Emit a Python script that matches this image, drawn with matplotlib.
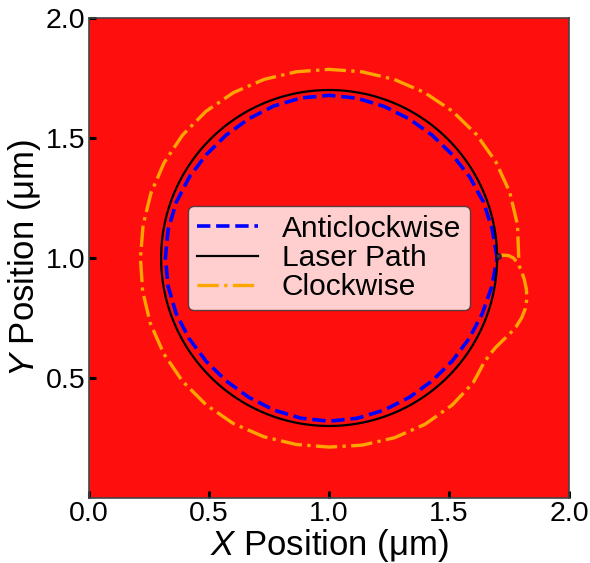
import numpy as np
import matplotlib
matplotlib.use("Agg")
import matplotlib.pyplot as plt

plt.rcParams['font.family'] = ['Liberation Sans', 'DejaVu Sans']
plt.rcParams['mathtext.fontset'] = 'custom'
plt.rcParams['mathtext.rm'] = 'Liberation Sans'
plt.rcParams['mathtext.it'] = 'Liberation Sans:italic'

# laser path: circle around the centre of the domain
laser_center = (1.0, 1.0)
laser_radius = 0.7

# anticlockwise front: radius read every 10 degrees, starting at the laser start point
blue_angles_deg = list(range(0, 361, 10))
blue_radii = [0.700, 0.690, 0.684, 0.676, 0.670, 0.668, 0.669, 0.672, 0.676, 0.678,
              0.677, 0.674, 0.670, 0.668, 0.669, 0.673, 0.678, 0.681, 0.682, 0.681,
              0.678, 0.673, 0.669, 0.668, 0.670, 0.674, 0.678, 0.680, 0.678, 0.674,
              0.670, 0.668, 0.669, 0.673, 0.679, 0.688, 0.700]

# clockwise front, part 1: the hook leaving the start point (x, y)
hook_x = [1.700, 1.725, 1.748, 1.768, 1.785, 1.800, 1.813, 1.822, 1.824, 1.818,
          1.803, 1.780, 1.752, 1.722, 1.692, 1.665, 1.642, 1.622, 1.600]
hook_y = [1.005, 1.012, 1.010, 1.000, 0.980, 0.950, 0.912, 0.870, 0.830, 0.790,
          0.752, 0.715, 0.683, 0.655, 0.625, 0.592, 0.558, 0.520, 0.480]

# clockwise front, part 2: radius about the centre, every 10 degrees going clockwise
body_angles_deg = list(range(-50, -361, -10))
body_radii = [0.799, 0.800, 0.797, 0.792, 0.788, 0.789, 0.793, 0.797, 0.798, 0.798,
              0.796, 0.793, 0.789, 0.786, 0.787, 0.790, 0.794, 0.797, 0.798, 0.796,
              0.792, 0.788, 0.786, 0.788, 0.792, 0.796, 0.799, 0.801, 0.802, 0.801,
              0.797, 0.790]

start_point = (1.704, 1.01)

fig = plt.figure(figsize=(5.9, 5.63), dpi=100)
ax = fig.add_axes([0.151, 0.1155, 0.8136, 0.8525])
ax.set_facecolor('#ff0e0e')

th = np.radians(blue_angles_deg)
r = np.array(blue_radii)
ax.plot(laser_center[0] + r * np.cos(th), laser_center[1] + r * np.sin(th),
        color='blue', linestyle='--', linewidth=2.6, label='Anticlockwise')

t = np.linspace(0, 2 * np.pi, 400)
ax.plot(laser_center[0] + laser_radius * np.cos(t), laser_center[1] + laser_radius * np.sin(t),
        color='black', linewidth=1.6, label='Laser Path')

tb = np.radians(body_angles_deg)
rb = np.array(body_radii)
cw_x = np.concatenate([hook_x, laser_center[0] + rb * np.cos(tb)])
cw_y = np.concatenate([hook_y, laser_center[1] + rb * np.sin(tb)])
ax.plot(cw_x, cw_y, color='orange', linestyle='-.', linewidth=2.4, label='Clockwise')

ax.plot([start_point[0]], [start_point[1]], 'o', color='#1a1040', markersize=4, alpha=0.8)

ax.set_xlim(0, 2)
ax.set_ylim(0, 2)
ax.set_xticks([0.0, 0.5, 1.0, 1.5, 2.0])
ax.set_yticks([0.5, 1.0, 1.5, 2.0])
ax.tick_params(direction='in', length=5, width=2.2, labelsize=20.5, pad=2.5,
               top=False, right=False, color='black')
for s in ax.spines.values():
    s.set_color('#444444')
    s.set_linewidth(1.2)

ax.set_xlabel(r'$X$ Position (μm)', fontsize=25, labelpad=0)
ax.set_ylabel(r'$Y$ Position (μm)', fontsize=25, labelpad=2)

leg = ax.legend(loc='center', fontsize=21.5, handlelength=2.05, labelspacing=0.05,
                borderpad=0.3, handletextpad=0.8, framealpha=0.8, edgecolor='#333333',
                fancybox=True)

fig.savefig('out.png', dpi=100)
